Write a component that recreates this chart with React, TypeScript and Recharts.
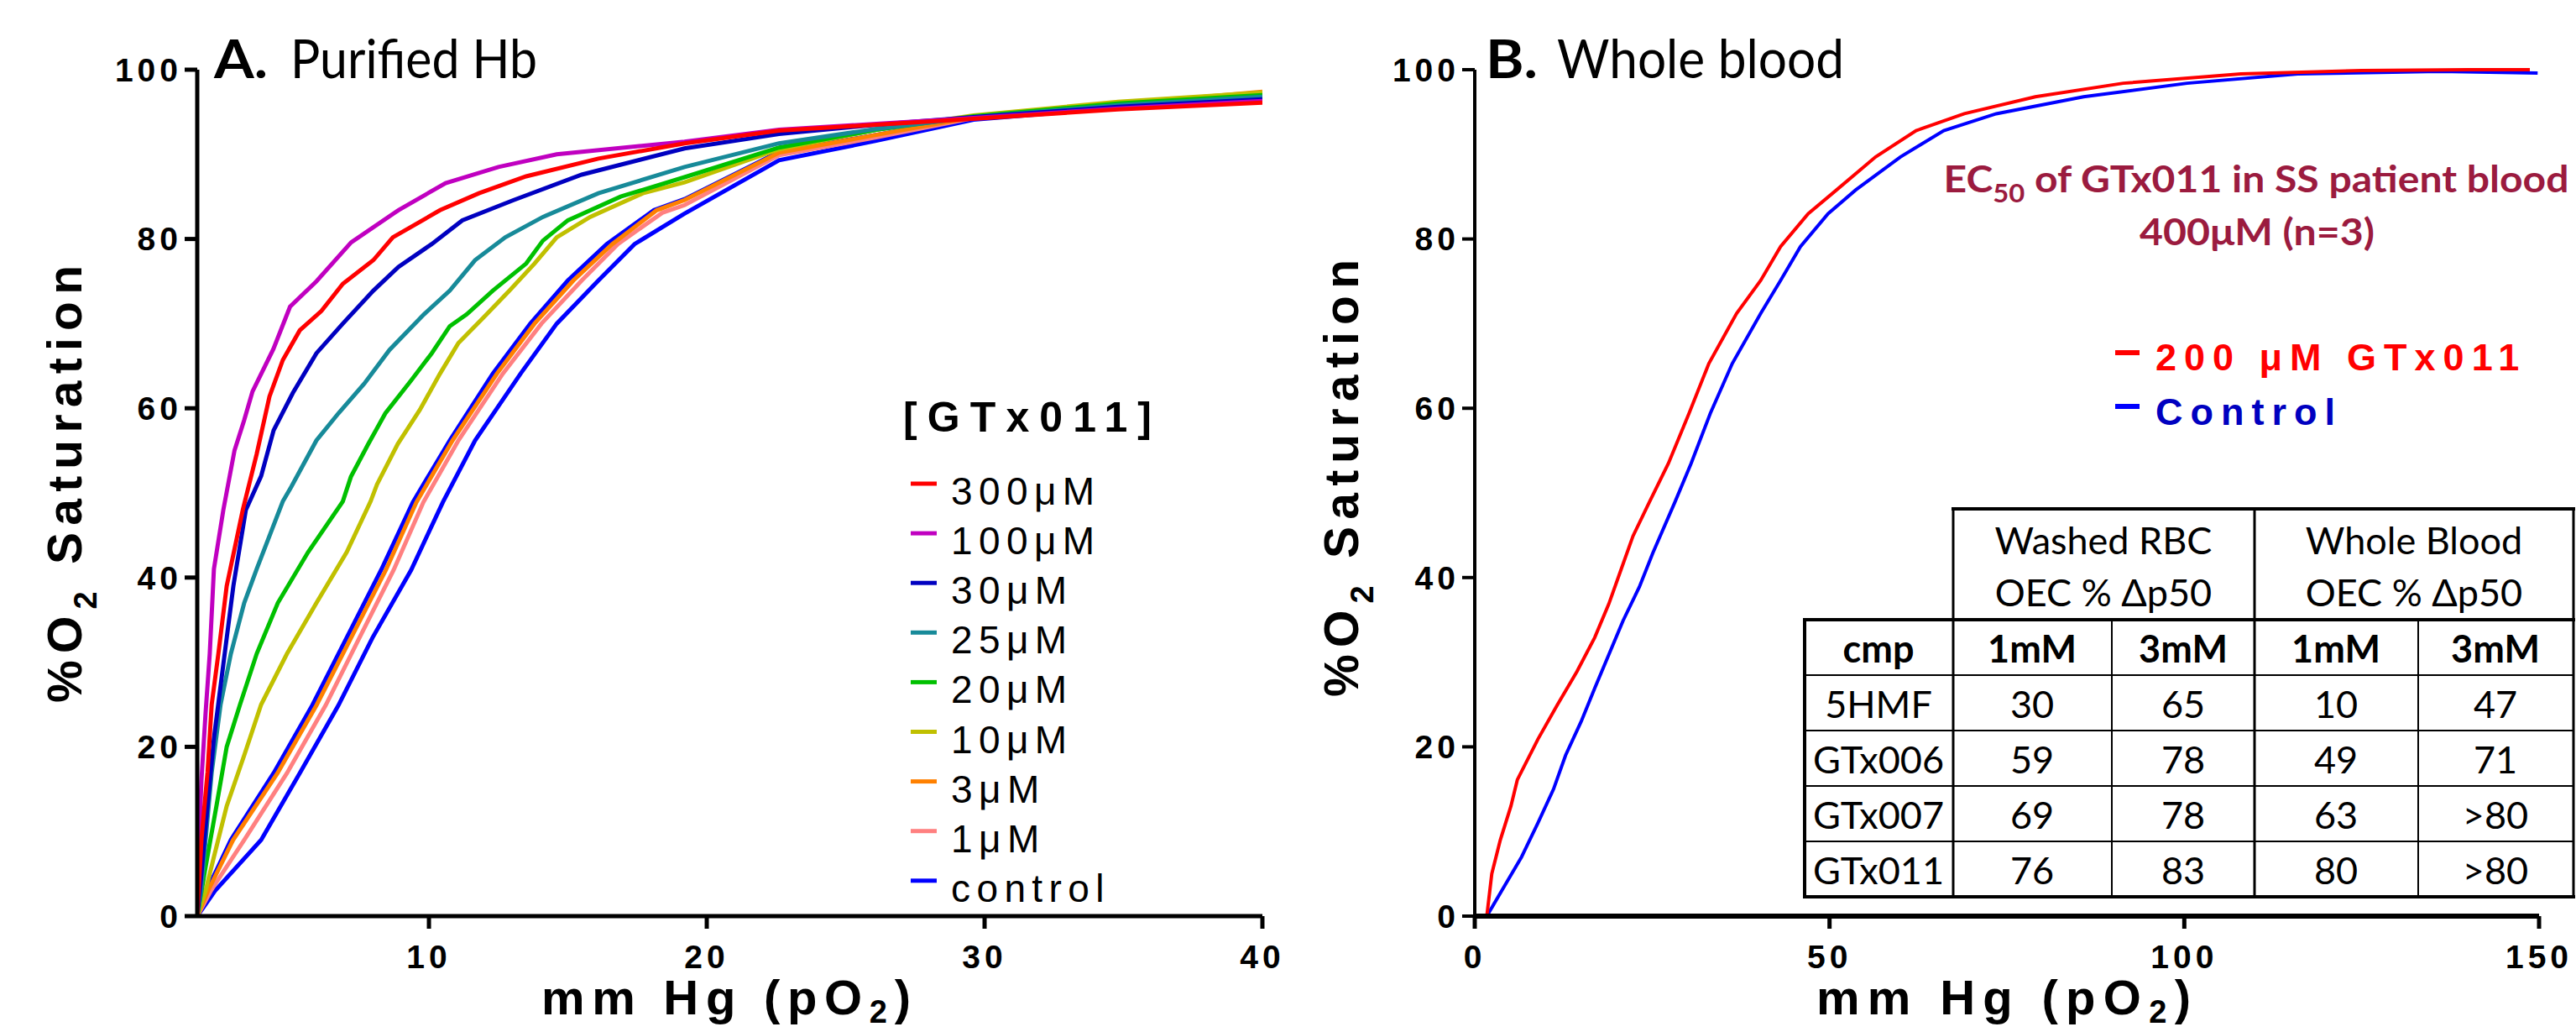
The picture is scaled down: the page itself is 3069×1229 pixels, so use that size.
import React from "react";
import { LineChart, Line, XAxis, YAxis } from "recharts";

// Panel A: purified Hb, [x = pO2 mmHg, y = % O2 saturation]
const hb300 = [[1.66,0],[1.81,9],[2.03,17],[2.18,25],[2.42,31],[2.72,39],[3.3,48],[3.8,54.6],[4.26,61.4],[4.74,65.7],[5.35,69.2],[6.13,71.5],[6.9,74.7],[8.0,77.5],[8.7,80.2],[10.4,83.4],[11.8,85.4],[13.5,87.4],[16.1,89.5],[19.2,91.3],[22.6,92.8],[26.1,93.5],[29.6,94.2],[34.8,95.3],[40,96.1]];
const hb100 = [[1.66,0],[1.73,9],[1.81,16],[1.96,24],[2.11,31],[2.26,41],[2.6,48],[3.0,55],[3.35,58.6],[3.65,62],[4.4,67],[5.0,72],[5.95,75],[7.2,79.6],[8.9,83.4],[10.6,86.6],[12.5,88.5],[14.6,90],[19.2,91.5],[22.6,92.9],[26.1,93.6],[29.6,94.3],[34.8,95.4],[40,96.3]];
const hb30 = [[1.66,0],[1.81,5],[2.03,13],[2.26,21],[2.57,29],[2.96,39],[3.41,48],[3.96,52],[4.41,57.4],[5.1,61.8],[5.95,66.5],[6.9,70],[8.0,73.9],[8.9,76.7],[10.1,79.4],[11.2,82.2],[13.05,84.6],[15.5,87.6],[19.2,90.7],[22.6,92.4],[26.1,93.5],[29.6,94.4],[34.8,95.6],[40,96.5]];
const hb25 = [[1.66,0],[1.8,3],[1.96,9],[2.18,17],[2.5,25],[2.87,31],[3.35,37],[3.8,41],[4.74,49],[5.04,50.7],[5.95,56.2],[6.74,59.4],[7.67,62.9],[8.58,66.9],[9.82,71.1],[10.75,73.9],[11.66,77.5],[12.75,80.2],[14.1,82.6],[16.1,85.4],[19.2,88.5],[22.6,91.3],[26.1,93.0],[29.6,94.4],[34.8,95.8],[40,96.8]];
const hb20 = [[1.66,0],[1.96,5.8],[2.35,13],[2.72,20],[3.2,25],[3.8,31],[4.56,37],[5.65,43],[6.9,49],[7.19,51.9],[7.82,55.8],[8.43,59.4],[9.36,63.3],[10.1,66.5],[10.75,69.7],[11.36,71.1],[12.3,73.9],[13.5,77.1],[14.1,79.8],[15.0,82.2],[16.9,85],[19.2,87.3],[22.6,90.8],[26.1,92.9],[29.6,94.5],[34.8,96],[40,97]];
const hb10 = [[1.66,0],[1.96,3],[2.26,7],[2.72,13],[3.35,19],[3.96,25],[4.89,31],[5.95,37],[7.04,43],[7.9,49],[8.13,51],[8.88,55.8],[9.67,59.8],[10.4,64.1],[11.06,67.7],[11.96,70.7],[12.9,73.9],[13.8,77.1],[14.6,80.2],[15.8,82.6],[17.7,85.4],[19.2,86.7],[22.6,90.6],[26.1,92.9],[29.6,94.6],[34.8,96.2],[40,97.3]];
const hb3 = [[1.66,0],[2.05,3],[2.95,9],[4.55,16.9],[5.95,24.9],[7.2,32.9],[8.45,40.9],[9.55,48.9],[10.85,56.2],[12.45,64.1],[13.8,70],[15.2,75.1],[16.6,79.4],[18.2,83.4],[19.2,84.6],[22.6,90.2],[26.1,92.3],[29.6,94.4],[34.8,95.9],[40,97.4]];
const hb1 = [[1.66,0],[2.15,3],[3.35,9],[4.89,16.9],[6.28,24.9],[7.5,32.9],[8.73,40.9],[9.8,48.9],[11.06,56.2],[12.66,64.1],[14.05,70],[15.5,75.1],[16.8,79.4],[18.4,83.1],[19.2,84],[22.6,89.9],[26.1,92],[29.6,94.3],[34.8,95.8],[40,97.2]];
const hbControl = [[1.66,0],[2.3,3],[3.96,9],[5.35,16.9],[6.74,24.9],[7.97,32.9],[9.36,40.9],[10.5,48.9],[11.66,56.2],[13.3,64.1],[14.6,70],[16.1,75.1],[17.4,79.4],[19.2,83],[22.6,89.3],[26.1,91.6],[29.6,94.1],[34.8,95.5],[40,96.6]];
const hbControlRepeat = [[1.66,0],[2.0,3],[2.87,9],[4.41,16.9],[5.8,24.9],[7.04,32.9],[8.28,40.9],[9.42,48.9],[10.75,56.2],[12.3,64.1],[13.65,70],[15.0,75.1],[16.4,79.4],[18.1,83.4],[19.2,84.7],[22.6,90.3],[26.1,92.3],[29.6,94.4],[34.8,95.7],[40,96.8]];

// Panel B: whole blood
const wb200 = [[1.7,0],[2.4,5],[3.6,9],[5.1,13],[6.0,16.1],[8.9,20.9],[11.6,24.9],[14.4,28.9],[16.9,32.9],[18.9,36.9],[20.6,40.9],[22.3,44.9],[24.6,48.9],[27.3,53.5],[30.2,59.4],[33,65.3],[36.9,71.2],[40.3,75.1],[43.1,79.1],[47,83],[51,85.8],[56.5,89.7],[62.2,92.8],[69,94.8],[79,96.8],[91.4,98.4],[108,99.5],[125,99.9],[140,100],[148.7,100]];
const wbControl = [[1.7,0],[3.8,3],[6.6,7],[8.9,11],[11.1,15],[12.8,19],[15,23],[16.9,26.9],[18.9,30.9],[20.9,34.9],[23.2,38.9],[25.1,42.9],[28.2,48.9],[30.5,53.5],[33.2,59.4],[36.3,65.3],[40.3,71.2],[43.1,75.1],[45.9,79.1],[49.8,83],[53.7,85.8],[60,89.7],[66.1,92.8],[73.5,94.8],[85.8,96.8],[100.4,98.4],[116,99.5],[136,99.8],[149.8,99.6]];

const ticksY = [0, 20, 40, 60, 80, 100];
const ticksXA = [10, 20, 30, 40];
const ticksXB = [0, 50, 100, 150];

// legend order as in the figure (label, color)
const legendA = [
  ["300μM", "#ff0000"],
  ["100μM", "#c000c0"],
  ["30μM", "#0000c0"],
  ["25μM", "#178a99"],
  ["20μM", "#00c000"],
  ["10μM", "#c0c000"],
  ["3μM", "#ff8000"],
  ["1μM", "#ff8080"],
  ["control", "#0000ff"],
];

// drawing order, bottom first
const seriesA = [
  { key: "control", color: "#0000ff", pts: hbControl },
  { key: "control-b", color: "#0000ff", pts: hbControlRepeat },
  { key: "1", color: "#ff8080", pts: hb1 },
  { key: "3", color: "#ff8000", pts: hb3 },
  { key: "10", color: "#c0c000", pts: hb10 },
  { key: "20", color: "#00c000", pts: hb20 },
  { key: "25", color: "#178a99", pts: hb25 },
  { key: "30", color: "#0000c0", pts: hb30 },
  { key: "100", color: "#c000c0", pts: hb100 },
  { key: "300", color: "#ff0000", pts: hb300 },
];

const tableGroups = ["Washed RBC", "Whole Blood"];
const tableHead = ["cmp", "1mM", "3mM", "1mM", "3mM"];
const compounds = ["5HMF", "GTx006", "GTx007", "GTx011"];
const washed1mM = ["30", "59", "69", "76"];
const washed3mM = ["65", "78", "78", "83"];
const whole1mM = ["10", "49", "63", "80"];
const whole3mM = ["47", "71", ">80", ">80"];

const toXY = (pts: number[][]) => pts.map(([x, y]) => ({ x, y }));

const ARIAL = "'Liberation Sans', Arial, sans-serif";
const CAL = "Lato, 'Open Sans', sans-serif";

const tickFont = { fill: "#000", fontSize: 39, fontWeight: 700, fontFamily: ARIAL, letterSpacing: 5 };

const XTick = (p: any) => (
  <text x={p.x} y={p.y} dy="0.71em" textAnchor="middle" {...tickFont}>
    {p.payload.value}
  </text>
);
const YTick = (p: any) => (
  <text x={p.x} y={p.y} dy="0.355em" textAnchor="end" {...tickFont}>
    {p.payload.value}
  </text>
);

const axisLine = { stroke: "#000", strokeWidth: 5 };

function PanelA() {
  return (
    <LineChart width={1580} height={1229} margin={{ top: 83, right: 76, bottom: 0, left: 0 }}>
      <XAxis
        dataKey="x"
        type="number"
        domain={[1.66, 40]}
        ticks={ticksXA}
        allowDataOverflow
        height={138}
        axisLine={axisLine}
        tickLine={axisLine}
        tickSize={15}
        tickMargin={19}
        tick={XTick}
      />
      <YAxis
        type="number"
        domain={[0, 100]}
        ticks={ticksY}
        width={235}
        axisLine={axisLine}
        tickLine={axisLine}
        tickSize={15}
        tickMargin={3}
        tick={YTick}
      />
      {seriesA.map((s) => (
        <Line
          key={s.key}
          data={toXY(s.pts)}
          dataKey="y"
          type="linear"
          stroke={s.color}
          strokeWidth={5}
          dot={false}
          isAnimationActive={false}
        />
      ))}
    </LineChart>
  );
}

function PanelB() {
  return (
    <LineChart width={1489} height={1229} margin={{ top: 83, right: 44, bottom: 0, left: 0 }}>
      <XAxis
        dataKey="x"
        type="number"
        domain={[0, 150]}
        ticks={ticksXB}
        height={138}
        axisLine={{ stroke: "#000", strokeWidth: 6 }}
        tickLine={axisLine}
        tickSize={15}
        tickMargin={19}
        tick={XTick}
      />
      <YAxis
        type="number"
        domain={[0, 100]}
        ticks={ticksY}
        width={177}
        axisLine={{ stroke: "#000", strokeWidth: 4 }}
        tickLine={{ stroke: "#000", strokeWidth: 4 }}
        tickSize={15}
        tickMargin={3}
        tick={YTick}
      />
      <Line data={toXY(wbControl)} dataKey="y" type="linear" stroke="#0000ff" strokeWidth={4} dot={false} isAnimationActive={false} />
      <Line data={toXY(wb200)} dataKey="y" type="linear" stroke="#ff0000" strokeWidth={4} dot={false} isAnimationActive={false} />
    </LineChart>
  );
}

function YTitle({ x, y }: { x: number; y: number }) {
  return (
    <text
      transform={`translate(${x},${y}) rotate(-90)`}
      fontFamily={ARIAL}
      fontWeight={700}
      fontSize={57}
      textLength={521}
      lengthAdjust="spacing"
    >
      %O<tspan fontSize={38} dy={18}>2</tspan>
      <tspan dy={-18}> Saturation</tspan>
    </text>
  );
}

function XTitle({ x, w }: { x: number; w: number }) {
  return (
    <text x={x} y={1208} fontFamily={ARIAL} fontWeight={700} fontSize={58} textLength={w} lengthAdjust="spacing">
      mm Hg (pO<tspan fontSize={38} dy={10}>2</tspan>
      <tspan dy={-10}>)</tspan>
    </text>
  );
}

function Overlay() {
  const rowY = [738, 804, 870, 936, 1002, 1068];
  const colX = [2150, 2327, 2516, 2686, 2881, 3066];
  const colC = [2238, 2421, 2601, 2783, 2973];
  const rows = compounds.map((c, i) => [c, washed1mM[i], washed3mM[i], whole1mM[i], whole3mM[i]]);
  return (
    <svg width={3069} height={1229} style={{ position: "absolute", left: 0, top: 0, pointerEvents: "none" }}>
      {/* panel titles */}
      <text x={255} y={93} fontFamily={CAL} fontWeight={700} fontSize={63} textLength={64} lengthAdjust="spacingAndGlyphs">A.</text>
      <text x={346} y={93} fontFamily={CAL} fontSize={63} textLength={294} lengthAdjust="spacingAndGlyphs">Purified Hb</text>
      <text x={1770} y={93} fontFamily={CAL} fontWeight={700} fontSize={63} textLength={62} lengthAdjust="spacingAndGlyphs">B.</text>
      <text x={1855} y={93} fontFamily={CAL} fontSize={63} textLength={342} lengthAdjust="spacingAndGlyphs">Whole blood</text>

      <YTitle x={97} y={837} />
      <YTitle x={1618} y={830} />
      <XTitle x={645} w={440} />
      <XTitle x={2164} w={446} />

      {/* legend A */}
      <text x={1076} y={514} fontFamily={ARIAL} fontWeight={700} fontSize={50} textLength={296} lengthAdjust="spacing">[GTx011]</text>
      {legendA.map(([label, color], i) => {
        const ly = 576 + i * 59.1;
        return (
          <g key={label}>
            <line x1={1085} x2={1116} y1={ly} y2={ly} stroke={color} strokeWidth={5} />
            <text x={1133} y={ly + 25} fontFamily={ARIAL} fontSize={46} letterSpacing={7.4}>{label}</text>
          </g>
        );
      })}

      {/* annotation B */}
      <text x={2688} y={229} textAnchor="middle" fontFamily={CAL} fontWeight={700} fontSize={44} fill="#9b1b3f" textLength={745} lengthAdjust="spacingAndGlyphs">
        EC<tspan fontSize={30} dy={12}>50</tspan>
        <tspan dy={-12}> of GTx011 in SS patient blood</tspan>
      </text>
      <text x={2689} y={292} textAnchor="middle" fontFamily={CAL} fontWeight={700} fontSize={44} fill="#9b1b3f" textLength={280} lengthAdjust="spacingAndGlyphs">400μM (n=3)</text>

      {/* legend B */}
      <line x1={2520} x2={2549} y1={420} y2={420} stroke="#ff0000" strokeWidth={6} />
      <text x={2568} y={441} fontFamily={ARIAL} fontWeight={700} fontSize={45} letterSpacing={9} fill="#ff0000">200 μM GTx011</text>
      <line x1={2520} x2={2549} y1={484} y2={484} stroke="#0000ff" strokeWidth={6} />
      <text x={2568} y={506} fontFamily={ARIAL} fontWeight={700} fontSize={45} letterSpacing={9} fill="#0000c0">Control</text>

      {/* table */}
      <g stroke="#000">
        <line x1={2325} x2={3068} y1={606} y2={606} strokeWidth={4} />
        <line x1={2148} x2={3068} y1={738} y2={738} strokeWidth={4} />
        {rowY.slice(1, 5).map((y) => (
          <line key={y} x1={2150} x2={3066} y1={y} y2={y} strokeWidth={2} />
        ))}
        <line x1={2148} x2={3068} y1={1068} y2={1068} strokeWidth={4} />
        <line x1={colX[0]} x2={colX[0]} y1={738} y2={1068} strokeWidth={4} />
        <line x1={colX[1]} x2={colX[1]} y1={606} y2={1068} strokeWidth={3} />
        <line x1={colX[2]} x2={colX[2]} y1={738} y2={1068} strokeWidth={2} />
        <line x1={colX[3]} x2={colX[3]} y1={606} y2={1068} strokeWidth={3} />
        <line x1={colX[4]} x2={colX[4]} y1={738} y2={1068} strokeWidth={2} />
        <line x1={colX[5]} x2={colX[5]} y1={606} y2={1068} strokeWidth={3} />
      </g>
      <g fontFamily={CAL} fontSize={45} textAnchor="middle">
        {tableGroups.map((g, i) => (
          <g key={g}>
            <text x={i === 0 ? 2506 : 2876} y={660}>{g}</text>
            <text x={i === 0 ? 2506 : 2876} y={722}>OEC % Δp50</text>
          </g>
        ))}
        {tableHead.map((h, j) => (
          <text key={j} x={colC[j]} y={789} fontWeight={700}>{h}</text>
        ))}
        {rows.map((r, i) =>
          r.map((v, j) => (
            <text key={i + "-" + j} x={colC[j]} y={855 + i * 66}>{v}</text>
          ))
        )}
      </g>
    </svg>
  );
}

export default function App() {
  return (
    <div style={{ position: "fixed", left: 0, top: 0, width: 3069, height: 1229, background: "#fff", overflow: "hidden" }}>
      <div style={{ position: "absolute", left: 0, top: 0 }}>
        <PanelA />
      </div>
      <div style={{ position: "absolute", left: 1580, top: 0 }}>
        <PanelB />
      </div>
      <Overlay />
    </div>
  );
}
